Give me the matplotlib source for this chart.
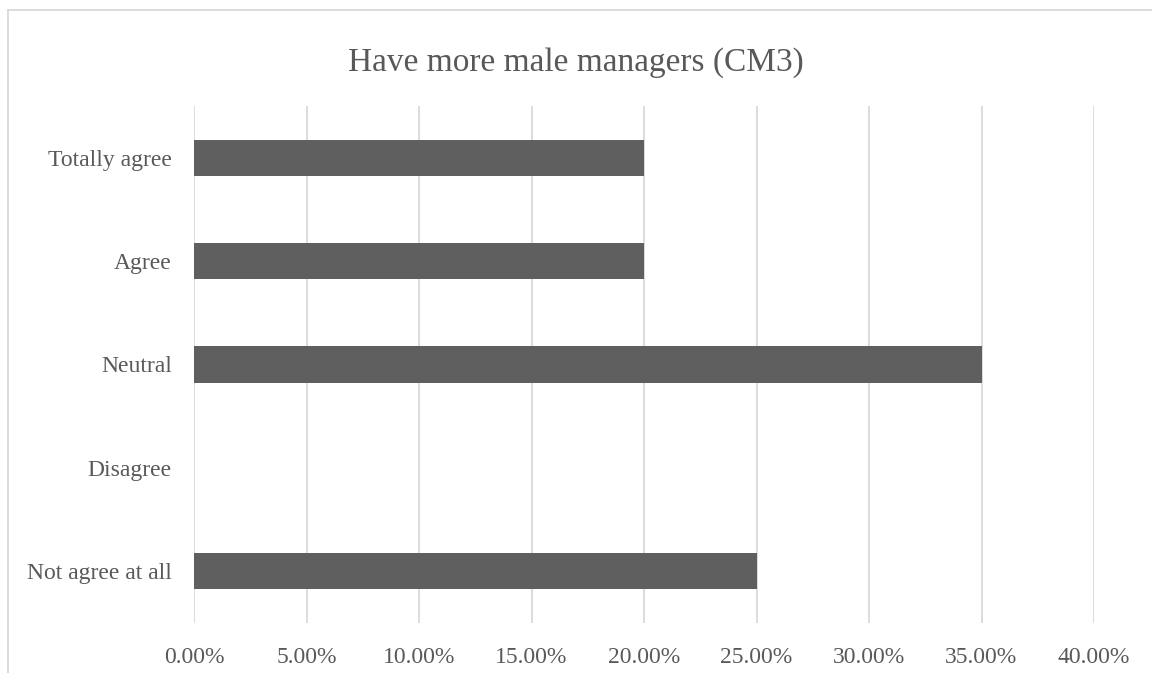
import matplotlib.pyplot as plt
from matplotlib.lines import Line2D
from matplotlib.ticker import FuncFormatter

plt.rcParams.update({
    "font.family": ["Liberation Serif", "DejaVu Serif"],
})

categories = ["Not agree at all", "Disagree", "Neutral", "Agree", "Totally agree"]
values = [0.25, 0.0, 0.35, 0.20, 0.20]
xticks = [0.0, 0.05, 0.10, 0.15, 0.20, 0.25, 0.30, 0.35, 0.40]

text_color = "#595959"
bar_color = "#5f5f5f"
grid_color = "#d9d9d9"

fig = plt.figure(figsize=(11.52, 6.73), dpi=100)
ax = fig.add_axes([194 / 1152, 1 - 623 / 673, 900 / 1152, 517 / 673])

y = list(range(len(categories)))
ax.barh(y, values, height=0.35, color=bar_color, zorder=3)

ax.set_xlim(0, 0.40)
ax.set_ylim(-0.5, 4.5)
ax.set_xticks(xticks)
ax.xaxis.set_major_formatter(FuncFormatter(lambda v, p: f"{v * 100:.2f}%"))
ax.set_yticks(y)
ax.set_yticklabels(categories)

ax.grid(axis="x", color=grid_color, linewidth=1.3, zorder=0)
ax.tick_params(axis="both", length=0, labelsize=17, labelcolor=text_color)
ax.tick_params(axis="x", pad=17)
ax.tick_params(axis="y", pad=16)
for s in ax.spines.values():
    s.set_visible(False)

fig.text(0.5, 1 - 63 / 673, "Have more male managers (CM3)", ha="center", va="center",
         fontsize=24, color=text_color)

# chart border (only left/top visible in the crop)
fig.add_artist(Line2D([8 / 1152, 8 / 1152], [0, 1 - 10 / 673], color=grid_color, linewidth=1.3))
fig.add_artist(Line2D([8 / 1152, 1], [1 - 10 / 673, 1 - 10 / 673], color=grid_color, linewidth=1.3))

fig.savefig("out.png", dpi=100)
